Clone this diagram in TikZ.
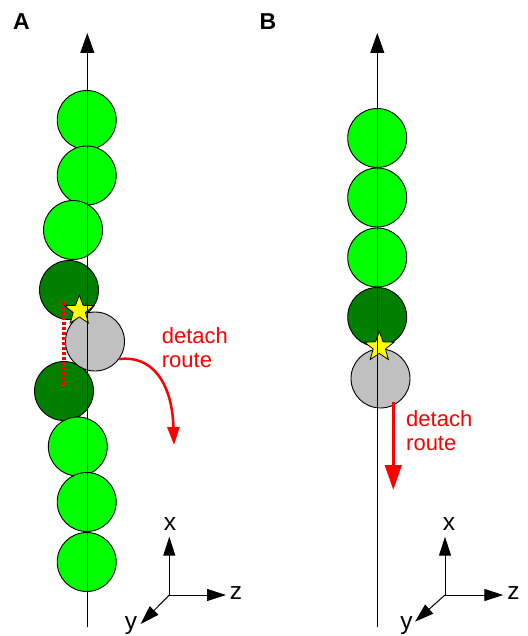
\documentclass[tikz,border=0pt]{standalone}
\usepackage{fontspec}
\setmainfont{Liberation Sans}
\usetikzlibrary{arrows.meta,shapes.geometric}
\definecolor{lgreen}{HTML}{00FF00}
\definecolor{dgreen}{HTML}{007F00}
\definecolor{lgray}{HTML}{C0C0C0}
\definecolor{syellow}{HTML}{FFFF00}
\definecolor{sred}{HTML}{FF0000}
\tikzset{
  bead/.style={circle, draw=black, line width=0.9pt, minimum size=59pt, inner sep=0pt},
  lbead/.style={bead, fill=lgreen},
  dbead/.style={bead, fill=dgreen},
  gbead/.style={bead, fill=lgray},
  starmark/.style={star, star points=5, star point ratio=2.4, draw=black, line width=0.8pt, fill=syellow, minimum size=31pt, inner sep=0pt},
  mainaxis/.style={line width=1pt, -{Triangle[length=20pt,width=14pt]}},
  coordaxis/.style={line width=1pt, -{Triangle[length=19pt,width=12pt]}},
  lab/.style={font=\fontsize{24.5}{26}\selectfont, inner sep=0pt, anchor=base},
  panel/.style={font=\fontsize{23}{24}\selectfont\bfseries, inner sep=0pt, anchor=base},
  redtext/.style={font=\fontsize{22}{24}\selectfont, text=sred, inner sep=0pt, anchor=north west, align=left},
}
\begin{document}
\begin{tikzpicture}[x=1pt,y=-1pt]
\useasboundingbox (0,0) rectangle (527,636);
% panel labels
\node[panel] (labA) at (21.5,30) {A};
\node[panel] (labB) at (268,30) {B};
% ---------- Panel A ----------
\node[lbead] (a1) at (86.7,120) {};
\node[lbead] (a2) at (86.7,175.5) {};
\node[lbead] (a3) at (73,230) {};
\node[dbead] (a4) at (69,290) {};
\node[dbead] (a6) at (64,391) {};
\node[lbead] (a7) at (77.8,446.5) {};
\node[lbead] (a8) at (86.7,502) {};
\node[lbead] (a9) at (86.7,562) {};
\node[gbead] (gA) at (95,341.5) {};
\coordinate (dtA) at (64,301.7);
\coordinate (dbA) at (64,388.3);
\draw[sred, line width=4pt, dash pattern=on 3pt off 2pt] (dtA) -- (dbA);
\node[starmark] (sA) at (79.3,310.5) {};
\coordinate (axAb) at (87.3,627);
\coordinate (axAt) at (87.3,33);
\draw[mainaxis] (axAb) -- (axAt);
\coordinate (rA) at (174,445);
\draw[sred, line width=2.5pt, -{Triangle[length=18pt,width=12pt]}] (gA.-36) .. controls (150,355) and (172,380) .. (rA);
\node[redtext] (tA) at (161.7,327) {detach\\route};
% coordinate axes A
\coordinate (oA) at (169.3,595);
\coordinate (xA) at (169.3,536.7);
\coordinate (zA) at (226,595);
\coordinate (yA) at (140.7,624);
\draw[coordaxis] (oA) -- (xA);
\draw[coordaxis] (oA) -- (zA);
\draw[coordaxis] (oA) -- (yA);
\node[lab] (lxA) at (170,530.7) {x};
\node[lab] (lzA) at (236,599.3) {z};
\node[lab] (lyA) at (131,629.5) {y};
% ---------- Panel B ----------
\node[lbead] (b1) at (377.2,138) {};
\node[lbead] (b2) at (377.2,197.5) {};
\node[lbead] (b3) at (377.2,257.5) {};
\node[dbead] (b4) at (377.2,317) {};
\node[gbead] (gB) at (380.5,378.5) {};
\node[starmark] (sB) at (379.3,347) {};
\coordinate (axBb) at (377.3,627);
\coordinate (axBt) at (377.3,33);
\draw[mainaxis] (axBb) -- (axBt);
\coordinate (rBs) at (393.3,401.7);
\coordinate (rBe) at (393.3,490);
\draw[sred, line width=3pt, -{Triangle[length=25pt,width=16.5pt]}] (rBs) -- (rBe);
\node[redtext] (tB) at (406,410) {detach\\route};
% coordinate axes B
\coordinate (oB) at (445,595);
\coordinate (xB) at (445,536.7);
\coordinate (zB) at (503.3,595);
\coordinate (yB) at (415,621.7);
\draw[coordaxis] (oB) -- (xB);
\draw[coordaxis] (oB) -- (zB);
\draw[coordaxis] (oB) -- (yB);
\node[lab] (lxB) at (449,530.7) {x};
\node[lab] (lzB) at (513.5,599.3) {z};
\node[lab] (lyB) at (406.5,629.5) {y};
\end{tikzpicture}
\end{document}
